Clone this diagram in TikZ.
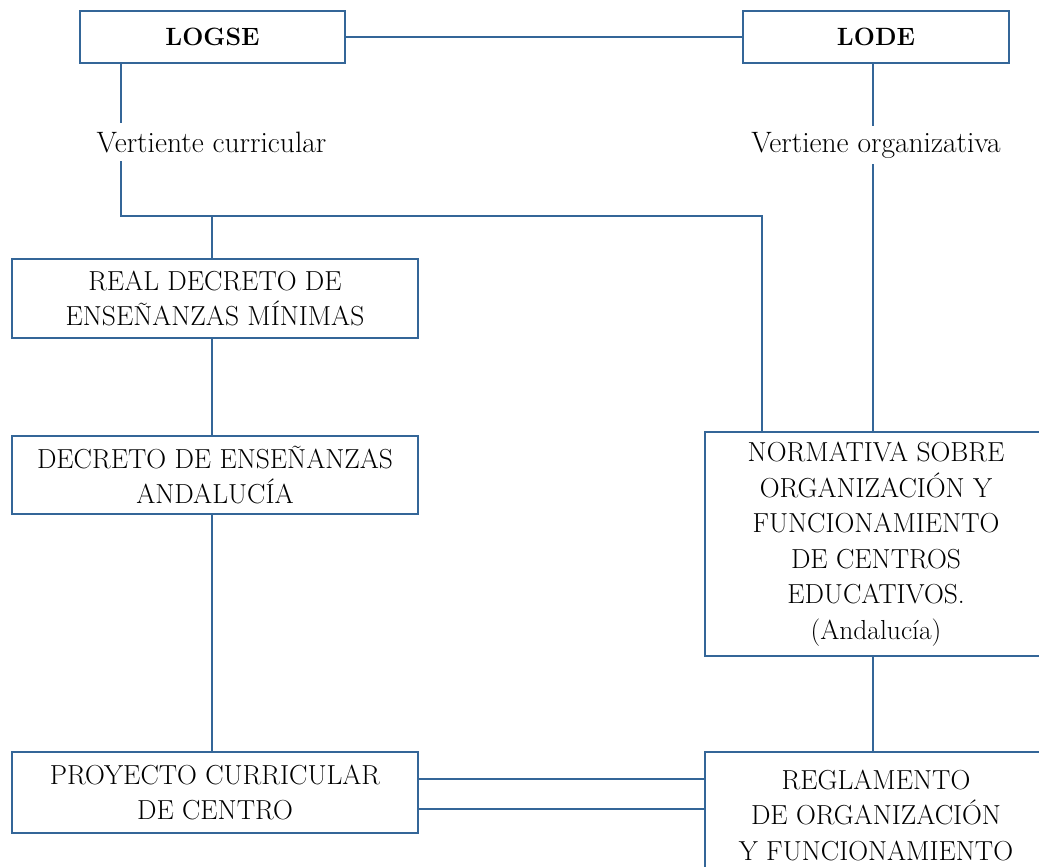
\documentclass[tikz,border=0pt]{standalone}
\usepackage{fontspec}
\definecolor{lineblue}{RGB}{52,102,152}
\tikzset{
  box/.style={draw=lineblue, line width=1.3pt, align=center, inner sep=0pt, font=\fontsize{27.5}{35.5}\selectfont},
  lbl/.style={align=center, inner sep=0pt, font=\fontsize{29.5}{32}\selectfont, minimum height=38pt},
  conn/.style={draw=lineblue, line width=1.3pt}
}
\begin{document}
\begin{tikzpicture}[x=1pt,y=-1pt]
\useasboundingbox (0,0) rectangle (1039,867);
\clip (0,0) rectangle (1039,867);
% nodes
\node[box, minimum width=265pt, minimum height=52pt, font=\fontsize{25}{30}\selectfont] (logse) at (212.5,37) {\textbf{LOGSE}};
\node[box, minimum width=266pt, minimum height=52pt, font=\fontsize{25}{30}\selectfont] (lode) at (876,37) {\textbf{LODE}};
\node[lbl] (vc) at (211.5,142) {Vertiente curricular};
\node[lbl] (vo) at (876,145) {Vertiene organizativa};
\node[box, minimum width=406pt, minimum height=79pt] (real) at (215,298.5) {REAL DECRETO DE\\ENSEÑANZAS MÍNIMAS};
\node[box, minimum width=406pt, minimum height=78pt] (dec) at (215,475) {DECRETO DE ENSEÑANZAS\\ANDALUCÍA};
\node[box, minimum width=406pt, minimum height=81pt] (proy) at (215,792.5) {PROYECTO CURRICULAR\\DE CENTRO};
\node[box, minimum width=342pt, minimum height=224pt] (norm) at (876,544) {NORMATIVA SOBRE\\ORGANIZACIÓN Y\\FUNCIONAMIENTO\\DE CENTROS\\EDUCATIVOS.\\(Andalucía)};
\node[box, minimum width=342pt, minimum height=126pt] (regl) at (876,815) {REGLAMENTO\\DE ORGANIZACIÓN\\Y FUNCIONAMIENTO};
% helper coordinates
\coordinate (c1) at (121,216);
\coordinate (c2) at (762,216);
\coordinate (j) at (212,216);
\coordinate (r) at (873,0);
\coordinate (h1) at (0,779);
\coordinate (h2) at (0,809);
% connectors
\draw[conn] (logse.east) -- (lode.west);
\draw[conn] (logse.south -| c1) -- (vc.north -| c1);
\draw[conn] (vc.south -| c1) -- (c1) -- (c2) -- (norm.north -| c2);
\draw[conn] (j) -- (real.north -| j);
\draw[conn] (real.south -| j) -- (dec.north -| j);
\draw[conn] (dec.south -| j) -- (proy.north -| j);
\draw[conn] (lode.south -| r) -- (vo.north -| r);
\draw[conn] (vo.south -| r) -- (norm.north -| r);
\draw[conn] (norm.south -| r) -- (regl.north -| r);
\draw[conn] (proy.east |- h1) -- (regl.west |- h1);
\draw[conn] (proy.east |- h2) -- (regl.west |- h2);
\end{tikzpicture}
\end{document}
